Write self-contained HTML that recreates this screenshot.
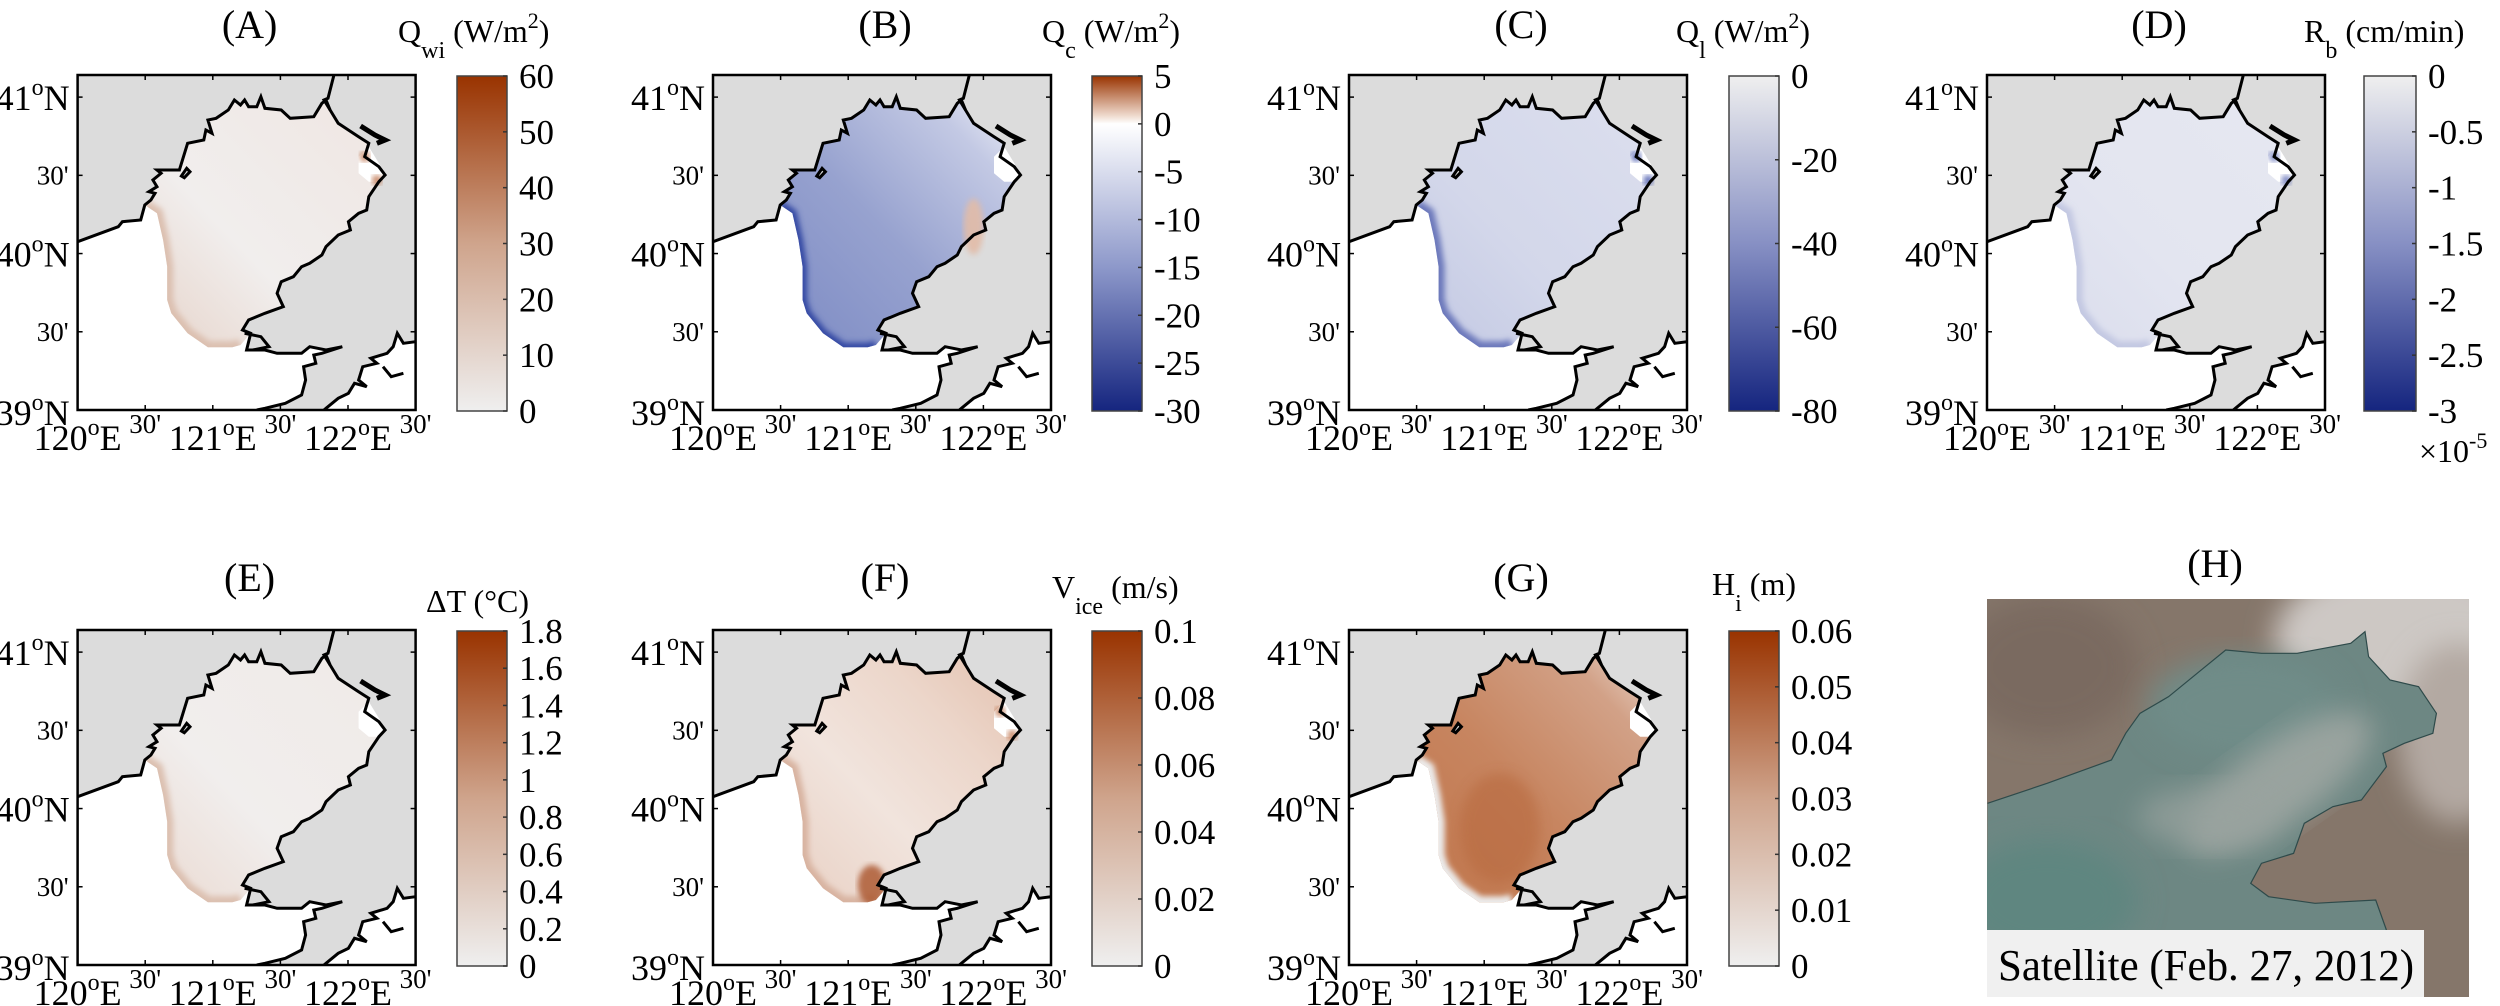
<!DOCTYPE html>
<html><head><meta charset="utf-8"><style>
html,body{margin:0;padding:0;background:#fff;}
svg{display:block;}
svg text{font-family:"Liberation Serif","Times New Roman",serif;}
</style></head>
<body>
<svg id="fig" width="2500" height="1006" viewBox="0 0 2500 1006" xmlns="http://www.w3.org/2000/svg" font-family="Liberation Serif, serif">
<defs id="defs">
  <filter id="blur6" x="-20%" y="-20%" width="140%" height="140%"><feGaussianBlur stdDeviation="6"/></filter>
  <filter id="blur14" x="-20%" y="-20%" width="140%" height="140%"><feGaussianBlur stdDeviation="14"/></filter>
  <filter id="blur3"><feGaussianBlur stdDeviation="3"/></filter>
</defs>
</svg>
<script>
// ---------------- chart data ----------------
const panelLetters = ["A","B","C","D","E","F","G"];
const ticksA = [0,10,20,30,40,50,60];
const ticksB = [-30,-25,-20,-15,-10,-5,0,5];
const ticksC = [-80,-60,-40,-20,0];
const ticksD = [-3,-2.5,-2,-1.5,-1,-0.5,0];
const ticksE = [0,0.2,0.4,0.6,0.8,1,1.2,1.4,1.6,1.8];
const ticksF = [0,0.02,0.04,0.06,0.08,0.1];
const ticksG = [0,0.01,0.02,0.03,0.04,0.05,0.06];
const tickLabelsE = ["0","0.2","0.4","0.6","0.8","1","1.2","1.4","1.6","1.8"];
const tickLabelsF = ["0","0.02","0.04","0.06","0.08","0.1"];
const tickLabelsG = ["0","0.01","0.02","0.03","0.04","0.05","0.06"];
const latTicks = [39, 39.5, 40, 40.5, 41];
const latLabels = ["39", "30'", "40", "30'", "41"];
const lonTicks = [120, 120.5, 121, 121.5, 122, 122.5];
const lonLabels = ["120", "30'", "121", "30'", "122", "30'"];

// ---------------- helpers ----------------
const NS = "http://www.w3.org/2000/svg";
const svg = document.getElementById('fig');
const defs = document.getElementById('defs');
const FF = '"Liberation Serif", "Times New Roman", serif';
function mk(tag, attrs, parent){
  const e = document.createElementNS(NS, tag);
  for (const k in attrs) e.setAttribute(k, attrs[k]);
  if (tag === 'text') e.setAttribute('style', 'font-family:' + FF);
  (parent||svg).appendChild(e);
  return e;
}
function grad(id, stops, vertical){
  const g = mk('linearGradient', vertical ? {id:id,x1:0,y1:1,x2:0,y2:0} : {id:id,x1:0,y1:0,x2:1,y2:0}, defs);
  stops.forEach(s => mk('stop', {offset:s[0], 'stop-color':s[1]}, g));
  return g;
}

const coast = [[190,725],[290,680],[300,665],[345,660],[355,615],[370,600],[380,580],[365,575],[385,560],[375,540],[395,520],[385,510],[440,510],[460,430],[500,420],[505,390],[520,400],[510,360],[530,355],[560,330],[575,300],[590,315],[600,300],[610,320],[630,320],[640,290],[650,325],[690,330],[712,355],[770,350],[790,310],[800,300],[810,330],[830,370],[880,410],[905,430],[895,470],[930,500],[945,525],[930,545],[905,590],[900,630],[880,640],[855,665],[860,690],[830,705],[800,740],[790,765],[760,790],[740,800],[720,830],[690,845],[680,880],[695,920],[650,940],[610,960],[595,990],[615,1000],[605,1050],[650,1050],[680,1060],[740,1060],[760,1040],[800,1050],[840,1040],[790,1060],[770,1065],[775,1090],[745,1100],[750,1140],[740,1185],[700,1210],[650,1225],[630,1230]];
const iceEdge = [[590,1035],[570,1042],[510,1042],[460,1000],[420,940],[410,900],[410,800],[400,720],[385,640]];
const seaSE = [[1020,1025],[990,1030],[975,1000],[965,1040],[950,1060],[910,1075],[925,1090],[890,1100],[880,1140],[900,1160],[870,1150],[855,1180],[830,1195],[800,1225],[795,1230]];
const notch = [[880,470],[905,440],[945,520],[930,545],[905,545],[880,520]];

function T(ax){ return p => [ax.x + (p[0]-190)/830*ax.w, ax.y + (p[1]-225)/1005*ax.h]; }
function pts(arr, f){ return arr.map(p => f(p).map(v=>v.toFixed(1)).join(',')).join(' '); }

const colX = [77.6, 713, 1349, 1987];
const cbX  = [457, 1092, 1729, 2364];
const rowY = [75, 630];
const AW = 338, AH = 335;

const brown = [[0,'#efefef'],[0.5,'#cfa48c'],[1,'#993300']];
const blue  = [[0,'#15257f'],[0.5,'#8790c4'],[1,'#efefef']];
const bwr   = [[0,'#15257f'],[0.4286,'#8d98ca'],[0.8571,'#ffffff'],[0.88,'#f0dcd0'],[1,'#993300']];

const panels = [
 {letter:'A', col:0,row:0, ticks:ticksA, labels:ticksA.map(String), cmap:brown, q:'Q', sub:'wi', unit:' (W/m', sup:'2', tail:')', lx:398,
  field:[[0,'#e6d3c9'],[0.4,'#f1eeed'],[1,'#efe6e2']], edge:'#dcc0b0', hot:'#b9683e'},
 {letter:'B', col:1,row:0, ticks:ticksB, labels:ticksB.map(String), cmap:bwr, q:'Q', sub:'c', unit:' (W/m', sup:'2', tail:')', lx:1042,
  field:[[0,'#7d8bc4'],[0.45,'#97a2cf'],[0.8,'#c3c9e4'],[1,'#f4f5fa']], edge:'#3346a3'},
 {letter:'C', col:2,row:0, ticks:ticksC, labels:ticksC.map(String), cmap:blue, q:'Q', sub:'l', unit:' (W/m', sup:'2', tail:')', lx:1676,
  field:[[0,'#c2c8e3'],[0.4,'#d3d7ea'],[1,'#dcdfee']], edge:'#6c78bb', hot:'#3345a3'},
 {letter:'D', col:3,row:0, ticks:ticksD, labels:ticksD.map(String), cmap:blue, q:'R', sub:'b', unit:' (cm/min', sup:'', tail:')', lx:2304,
  field:[[0,'#dadded'],[0.4,'#e3e5f0'],[1,'#e6e8f1']], edge:'#c3c8e2', hot:'#5563b0'},
 {letter:'E', col:0,row:1, ticks:ticksE, labels:tickLabelsE, cmap:brown, q:'ΔT (°C)', sub:'', unit:'', sup:'', tail:'', lx:426, ly:612,
  field:[[0,'#ead9d0'],[0.4,'#f1eeed'],[1,'#f0eae7']], edge:'#dcc0b0'},
 {letter:'F', col:1,row:1, ticks:ticksF, labels:tickLabelsF, cmap:brown, q:'V', sub:'ice', unit:' (m/s)', sup:'', tail:'', lx:1052, ly:598,
  field:[[0,'#e8cfc2'],[0.4,'#f1e4dd'],[0.7,'#ecd6ca'],[1,'#e3c0ad']], edge:'#d8b3a0', hot:'#b9683e'},
 {letter:'G', col:2,row:1, ticks:ticksG, labels:tickLabelsG, cmap:brown, q:'H', sub:'i', unit:' (m)', sup:'', tail:'', lx:1712, ly:595,
  field:[[0,'#c1764c'],[0.45,'#c78560'],[0.8,'#d2a187'],[1,'#ecdcd2']], edge:'#ececec'}
];

panels.forEach((P, i) => {
  const ax = {x: colX[P.col], y: rowY[P.row], w: AW, h: AH};
  const f = T(ax);
  const g = mk('g', {});
  
  

  const tt = mk('text', {x: ax.x + ax.w/2 + 3, y: ax.y - 37 + (P.row?-2:0), 'font-size': 40, 'text-anchor':'middle'}, g);
  tt.textContent = '(' + P.letter + ')';
  
  

  const clipId = 'clip' + P.letter;
  const cp = mk('clipPath', {id: clipId}, defs);
  mk('rect', {x: ax.x, y: ax.y, width: ax.w, height: ax.h}, cp);
  const mapG = mk('g', {'clip-path': 'url(#' + clipId + ')'}, g);
  
  
  mk('rect', {x: ax.x, y: ax.y, width: ax.w, height: ax.h, fill: '#dcdcdc'}, mapG);
  const seaPts = coast.concat([[190,1230]]);
  mk('polygon', {points: pts(seaPts, f), fill: '#ffffff'}, mapG);
  mk('polygon', {points: pts(seaSE.concat([[1020,1230]]), f), fill: '#ffffff'}, mapG);

  const endIdx = coast.findIndex(p => p[0]===615 && p[1]===1000);
  const icePoly = coast.slice(4, endIdx+1).concat(iceEdge);
  const gid = 'field' + P.letter;
  const gr = mk('linearGradient', {id: gid, x1: 0, y1: 1, x2: 1, y2: 0}, defs);
  P.field.forEach(s => mk('stop', {offset: s[0], 'stop-color': s[1]}, gr));
  const ice = mk('polygon', {points: pts(icePoly, f), fill: 'url(#' + gid + ')'}, mapG);
  
  
  const iceClip = 'iceclip' + P.letter;
  const icp = mk('clipPath', {id: iceClip}, defs);
  mk('polygon', {points: pts(icePoly, f)}, icp);
  const edgeLine = [[355,615]].concat(iceEdge.slice().reverse()).concat([[590,1035]]);
  mk('polyline', {points: pts(edgeLine, f), fill: 'none', stroke: P.edge, 'stroke-width': (P.letter==='B'?9:12), 'clip-path': 'url(#' + iceClip + ')', filter: 'url(#blur3)'}, mapG);
  if (P.letter === 'G') {
    const c = f([560,820]);
    mk('ellipse', {cx: c[0], cy: c[1], rx: 40, ry: 55, fill: '#b86a40', opacity: 0.6, filter: 'url(#blur6)', 'clip-path': 'url(#' + iceClip + ')'}, mapG);
  }
  if (P.letter === 'F') {
    const c = f([580,990]);
    mk('ellipse', {cx: c[0], cy: c[1], rx: 14, ry: 20, fill: '#a9532a', opacity: 0.8, filter: 'url(#blur3)', 'clip-path': 'url(#' + iceClip + ')'}, mapG);
  }
  if (P.letter === 'B') {
    const c = f([830,680]);
    mk('ellipse', {cx: c[0], cy: c[1], rx: 10, ry: 28, fill: '#e2bca8', opacity: 0.9, filter: 'url(#blur3)'}, mapG);
  }
  mk('polygon', {points: pts(notch, f), fill: '#ffffff'}, mapG);
  if (P.hot) {
    const a = f([895,470]), b = f([925,540]);
    mk('circle', {cx: a[0], cy: a[1], r: 5, fill: P.hot, opacity: 0.8, filter: 'url(#blur3)'}, mapG);
    mk('circle', {cx: b[0], cy: b[1], r: 5, fill: P.hot, opacity: 0.8, filter: 'url(#blur3)'}, mapG);
  }

  const cl = mk('polyline', {points: pts(coast, f), fill: 'none', stroke: '#000', 'stroke-width': 3, 'stroke-linejoin': 'miter'}, mapG);
  
  
  mk('polyline', {points: pts(seaSE, f), fill: 'none', stroke: '#000', 'stroke-width': 3}, mapG);
  mk('polyline', {points: pts([[820,222],[805,295],[795,300],[810,330]], f), fill: 'none', stroke: '#000', 'stroke-width': 3}, mapG);
  mk('polyline', {points: pts([[885,378],[920,405],[945,420],[925,430]], f), fill: 'none', stroke: '#000', 'stroke-width': 5}, mapG);
  mk('polygon', {points: pts([[445,528],[458,505],[466,515],[452,533]], f), fill: '#dcdcdc', stroke: '#000', 'stroke-width': 3}, mapG);
  mk('polyline', {points: pts([[600,1000],[640,1010],[660,1040],[620,1050]], f), fill: 'none', stroke: '#000', 'stroke-width': 3}, mapG);
  mk('polyline', {points: pts([[940,1100],[960,1130],[990,1120]], f), fill: 'none', stroke: '#000', 'stroke-width': 3}, mapG);

  const fr = mk('rect', {x: ax.x, y: ax.y, width: ax.w, height: ax.h, fill: 'none', stroke: '#000', 'stroke-width': 2.5}, g);
  
  

  const yLat = v => ax.y + ax.h - (v - 39) / 0.5 * (0.2335 * ax.h);
  const xLon = v => ax.x + (v - 120) / 0.5 * (0.2 * ax.w);
  latTicks.forEach((v, k) => {
    const y = yLat(v);
    mk('line', {x1: ax.x, y1: y, x2: ax.x + 5, y2: y, stroke: '#000', 'stroke-width': 1.5}, g);
    mk('line', {x1: ax.x + ax.w, y1: y, x2: ax.x + ax.w - 5, y2: y, stroke: '#000', 'stroke-width': 1.5}, g);
    const lab = latLabels[k];
    let t;
    if (lab.indexOf("'") >= 0) {
      t = mk('text', {x: ax.x - 9, y: y + 9, 'font-size': 27, 'text-anchor': 'end'}, g);
      t.textContent = lab;
    } else {
      t = mk('text', {x: ax.x - 8, y: (v === 39 ? ax.y + ax.h + 15 : y + 13), 'font-size': 36, 'text-anchor': 'end'}, g);
      const a = mk('tspan', {}, t); a.textContent = lab;
      const b = mk('tspan', {'font-size': 24, dy: -15}, t); b.textContent = 'o';
      const c = mk('tspan', {dy: 15}, t); c.textContent = 'N';
    }
    
    
  });
  lonTicks.forEach((v, k) => {
    const x = xLon(v);
    mk('line', {x1: x, y1: ax.y + ax.h, x2: x, y2: ax.y + ax.h - 5, stroke: '#000', 'stroke-width': 1.5}, g);
    mk('line', {x1: x, y1: ax.y, x2: x, y2: ax.y + 5, stroke: '#000', 'stroke-width': 1.5}, g);
    const lab = lonLabels[k];
    let t;
    if (lab.indexOf("'") >= 0) {
      t = mk('text', {x: x, y: ax.y + ax.h + 23, 'font-size': 27, 'text-anchor': 'middle'}, g);
      t.textContent = lab;
    } else {
      t = mk('text', {x: x, y: ax.y + ax.h + 40, 'font-size': 36, 'text-anchor': 'middle'}, g);
      const a = mk('tspan', {}, t); a.textContent = lab;
      const b = mk('tspan', {'font-size': 24, dy: -15}, t); b.textContent = 'o';
      const c = mk('tspan', {dy: 15}, t); c.textContent = 'E';
    }
    
    
  });

  const cb = {x: cbX[P.col], y: ax.y + 1, w: (P.col===3?52:50), h: AH};
  grad('cmap' + P.letter, P.cmap, true);
  const cbr = mk('rect', {x: cb.x, y: cb.y, width: cb.w, height: cb.h, fill: 'url(#cmap' + P.letter + ')', stroke: '#444', 'stroke-width': 1.5}, g);
  
  
  const tmin = P.ticks[0], tmax = P.ticks[P.ticks.length - 1];
  const yCb = v => cb.y + cb.h - (v - tmin) / (tmax - tmin) * cb.h;
  P.ticks.forEach((v, k) => {
    const y = yCb(v);
    mk('line', {x1: cb.x + cb.w, y1: y, x2: cb.x + cb.w - 4, y2: y, stroke: '#333', 'stroke-width': 1.5}, g);
    const t = mk('text', {x: cb.x + cb.w + 12, y: y + 12, 'font-size': 35}, g);
    t.textContent = P.labels[k];
    
    
  });

  const ly = P.ly || 42;
  const ct = mk('text', {x: P.lx, y: ly, 'font-size': 32}, g);
  
  
  const s1 = mk('tspan', {}, ct); s1.textContent = P.q;
  if (P.sub) { const s2 = mk('tspan', {'font-size': 24, dy: 16}, ct); s2.textContent = P.sub; const s3 = mk('tspan', {dy: -16}, ct); s3.textContent = P.unit; }
  else if (P.unit) { const s3 = mk('tspan', {}, ct); s3.textContent = P.unit; }
  if (P.sup) { const s4 = mk('tspan', {'font-size': 22, dy: -14}, ct); s4.textContent = P.sup; const s5 = mk('tspan', {dy: 14}, ct); s5.textContent = P.tail; }
  else if (P.tail) { const s5 = mk('tspan', {}, ct); s5.textContent = P.tail; }

  if (P.letter === 'D') {
    const m = mk('text', {x: 2419, y: 462, 'font-size': 32}, g);
    
    
    const a = mk('tspan', {}, m); a.textContent = '×10';
    const b = mk('tspan', {'font-size': 22, dy: -14}, m); b.textContent = '-5';
  }
});

// ---------------- panel H: satellite ----------------
(function(){
  const g = mk('g', {});
  
  
  const t = mk('text', {x: 2215, y: 577, 'font-size': 40, 'text-anchor': 'middle'}, g);
  t.textContent = '(H)';
  
  
  const R = {x: 1987, y: 599, w: 482, h: 398};
  const cp = mk('clipPath', {id: 'clipH'}, defs);
  mk('rect', {x: R.x, y: R.y, width: R.w, height: R.h}, cp);
  const ph = mk('g', {'clip-path': 'url(#clipH)'}, g);
  
  
  mk('rect', {x: R.x, y: R.y, width: R.w, height: R.h, fill: '#85766a'}, ph);
  const S = p => [1940 + p[0] / 2.8, 500 + p[1] / 3];
  const c1 = S([1300, 420]);
  mk('ellipse', {cx: c1[0], cy: c1[1], rx: 130, ry: 80, fill: '#cdc8c4', filter: 'url(#blur14)'}, ph);
  const c2 = S([1450, 700]);
  mk('ellipse', {cx: c2[0], cy: c2[1], rx: 60, ry: 90, fill: '#b3a9a2', filter: 'url(#blur14)'}, ph);
  const c3 = S([300, 500]);
  mk('ellipse', {cx: c3[0], cy: c3[1], rx: 90, ry: 70, fill: '#7a6a60', filter: 'url(#blur14)'}, ph);
  const seaLine = [[133,910],[300,850],[480,780],[520,700],[560,640],[640,590],[720,520],[800,450],[900,460],[1000,460],[1150,430],[1190,395],[1200,470],[1260,540],[1340,560],[1390,640],[1380,700],[1300,730],[1240,760],[1250,800],[1180,900],[1100,920],[1020,970],[990,1060],[900,1090],[870,1150],[920,1190],[1050,1210],[1220,1200],[1250,1290]];
  const sea = seaLine.concat([[1250,1500],[133,1500]]);
  mk('polygon', {points: sea.map(p => S(p).join(',')).join(' '), fill: '#6d8783'}, ph);
  const b1 = S([850, 620]);
  mk('ellipse', {cx: b1[0], cy: b1[1], rx: 95, ry: 50, fill: '#708c88', filter: 'url(#blur14)'}, ph);
  const b2 = S([950, 850]);
  mk('ellipse', {cx: b2[0], cy: b2[1], rx: 110, ry: 40, fill: '#a4aaa6', opacity: 0.8, filter: 'url(#blur14)', transform: 'rotate(-35 ' + b2[0] + ' ' + b2[1] + ')'}, ph);
  const b3 = S([750, 950]);
  mk('ellipse', {cx: b3[0], cy: b3[1], rx: 70, ry: 30, fill: '#99a39f', opacity: 0.7, filter: 'url(#blur14)'}, ph);
  const b4 = S([300, 1200]);
  mk('ellipse', {cx: b4[0], cy: b4[1], rx: 90, ry: 60, fill: '#5f8680', filter: 'url(#blur14)'}, ph);
  const ln = mk('polyline', {points: seaLine.map(p => S(p).join(',')).join(' '), fill: 'none', stroke: '#2e4a4a', 'stroke-width': 1.2}, ph);
  
  
  const box = mk('rect', {x: 1987, y: 930, width: 437, height: 67, fill: '#f0f0f0'}, g);
  
  
  const cap = mk('text', {x: 1998, y: 980, 'font-size': 44, textLength: 416, lengthAdjust: 'spacingAndGlyphs'}, g);
  cap.textContent = 'Satellite (Feb. 27, 2012)';
  
  
})();
</script>
</body></html>
